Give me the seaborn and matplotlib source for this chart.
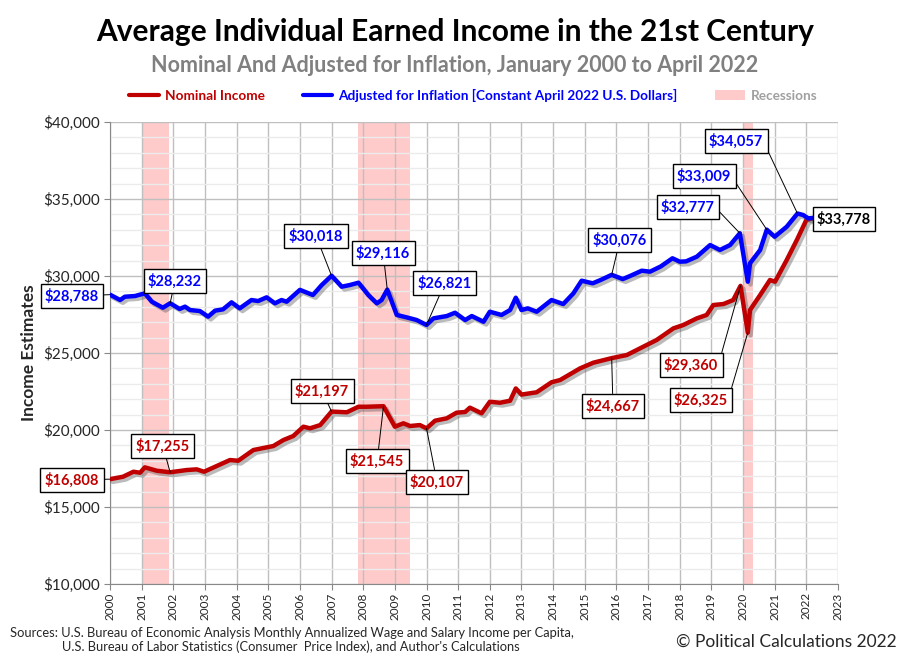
import matplotlib
matplotlib.use("Agg")
import matplotlib.pyplot as plt
import matplotlib.patheffects as pe
from matplotlib.lines import Line2D
from matplotlib.patches import Patch
from matplotlib.ticker import FuncFormatter, MultipleLocator
import seaborn as sns
import pandas as pd

# adjusted for inflation (constant April 2022 dollars)
adj_dates = [2000.0, 2000.32, 2000.47, 2000.79, 2001.1, 2001.32, 2001.67, 2001.9, 2002.2, 2002.37,
             2002.53, 2002.84, 2003.1, 2003.32, 2003.57, 2003.84, 2004.1, 2004.47, 2004.68, 2004.95,
             2005.21, 2005.42, 2005.58, 2006.0, 2006.41, 2006.69, 2007.0, 2007.32, 2007.58, 2007.85,
             2008.16, 2008.43, 2008.58, 2008.76, 2009.06, 2009.37, 2009.69, 2010.0, 2010.22, 2010.64,
             2010.9, 2011.22, 2011.43, 2011.8, 2012.0, 2012.37, 2012.64, 2012.82, 2013.0, 2013.2,
             2013.48, 2013.95, 2014.32, 2014.64, 2014.9, 2015.25, 2015.5, 2015.85, 2016.2, 2016.43,
             2016.8, 2017.06, 2017.4, 2017.77, 2018.0, 2018.2, 2018.54, 2018.96, 2019.27, 2019.59,
             2019.9, 2020.15, 2020.22, 2020.54, 2020.75, 2021.0, 2021.38, 2021.72, 2021.9, 2022.06,
             2022.25]
adj_values = [28788, 28440, 28655, 28700, 28875, 28330, 27940, 28232, 27860, 28010,
              27790, 27725, 27360, 27750, 27835, 28290, 27900, 28440, 28375, 28615,
              28225, 28440, 28330, 29100, 28765, 29415, 30018, 29305, 29415, 29565,
              28765, 28225, 28440, 29116, 27470, 27315, 27140, 26821, 27250, 27400,
              27615, 27140, 27400, 27030, 27680, 27470, 27790, 28590, 27790, 27900,
              27680, 28440, 28180, 28875, 29695, 29525, 29740, 30076, 29800, 30000,
              30345, 30280, 30620, 31150, 30930, 30950, 31255, 32010, 31690, 32010,
              32777, 29630, 30825, 31690, 33009, 32550, 33200, 34057, 33960, 33745,
              33778]

# nominal
nom_dates = [2000.0, 2000.41, 2000.74, 2000.95, 2001.1, 2001.48, 2001.9, 2002.42, 2002.74, 2002.97,
             2003.37, 2003.79, 2004.05, 2004.53, 2005.16, 2005.48, 2005.79, 2006.11, 2006.32, 2006.64,
             2007.0, 2007.48, 2007.85, 2008.11, 2008.64, 2009.0, 2009.27, 2009.48, 2009.79, 2010.0,
             2010.27, 2010.64, 2010.95, 2011.22, 2011.37, 2011.74, 2012.0, 2012.32, 2012.64, 2012.82,
             2013.0, 2013.48, 2013.95, 2014.22, 2014.85, 2015.27, 2015.85, 2016.33, 2016.85, 2017.27,
             2017.8, 2018.11, 2018.54, 2018.85, 2019.06, 2019.38, 2019.69, 2019.92, 2020.15, 2020.22,
             2020.54, 2020.85, 2021.01, 2021.38, 2021.7, 2022.0, 2022.25]
nom_values = [16808, 16965, 17290, 17225, 17575, 17355, 17255, 17400, 17445, 17290,
              17660, 18050, 18005, 18700, 18960, 19350, 19610, 20215, 20110, 20320,
              21197, 21150, 21510, 21510, 21545, 20215, 20435, 20260, 20320, 20107,
              20605, 20760, 21125, 21170, 21450, 21085, 21835, 21770, 21900, 22700,
              22300, 22450, 23100, 23245, 24000, 24370, 24667, 24870, 25410, 25845,
              26600, 26815, 27250, 27470, 28115, 28180, 28440, 29360, 26325, 27790,
              28765, 29740, 29630, 31040, 32340, 33640, 33778]

recession_start = [2001.05, 2007.82, 2020.04]
recession_end = [2001.86, 2009.48, 2020.3]

years = list(range(2000, 2024))

# labelled points: (index into series, label position, connector leaves box from right edge?)
adj_labels = [(0, (1998.8, 28700), False), (7, (2002.05, 29675), False),
              (26, (2006.51, 32600), False), (33, (2008.63, 31495), False),
              (37, (2010.58, 29545), False), (57, (2016.11, 32340), False),
              (70, (2018.26, 34480), True), (74, (2018.77, 36490), True),
              (77, (2019.78, 38765), True)]
nom_labels = [(0, (1998.8, 16750), False), (6, (2001.67, 18960), False),
              (20, (2006.7, 22530), False), (24, (2008.44, 17985), False),
              (29, (2010.33, 16620), False), (46, (2015.89, 21555), False),
              (57, (2018.36, 24220), True), (58, (2018.67, 21945), True)]

RED = "#C00000"
BLUE = "#0000FF"
PINK = "#ffcaca"

sns.set_style("white")
plt.rcParams["font.family"] = ["Lato", "DejaVu Sans"]

fig = plt.figure(figsize=(9.1, 6.61), dpi=100)
ax = fig.add_axes([110 / 910, 1 - 584 / 661, 728 / 910, 462 / 661])

for s, e in zip(recession_start, recession_end):
    ax.axvspan(s, e, color=PINK, lw=0, zorder=0)

adj = pd.DataFrame({"date": adj_dates, "value": adj_values})
nom = pd.DataFrame({"date": nom_dates, "value": nom_values})
shadow = [pe.SimpleLineShadow(offset=(2, -2), shadow_color="#555555", alpha=0.4), pe.Normal()]
sns.lineplot(data=nom, x="date", y="value", color=RED, linewidth=3.2, ax=ax, zorder=3)
ax.lines[-1].set_path_effects(shadow)
sns.lineplot(data=adj, x="date", y="value", color=BLUE, linewidth=3.2, ax=ax, zorder=3)
ax.lines[-1].set_path_effects(shadow)

ax.set_xlim(2000, 2023)
ax.set_ylim(10000, 40000)
ax.set_xticks(years)
ax.set_xticklabels([str(y) for y in years], rotation=90, fontsize=8.5)
ax.yaxis.set_major_locator(MultipleLocator(5000))
ax.yaxis.set_minor_locator(MultipleLocator(1000))
ax.yaxis.set_major_formatter(FuncFormatter(lambda v, p: f"${v:,.0f}"))
ax.tick_params(axis="y", labelsize=11, length=4, which="major", left=True, color="#888888")
ax.tick_params(axis="x", length=4, bottom=True, color="#888888", pad=2)
ax.set_axisbelow(True)
ax.grid(True, which="major", color="#bfbfbf", lw=1)
ax.grid(True, which="minor", axis="y", color="#ebebeb", lw=1)
for side in ["top", "right"]:
    ax.spines[side].set_visible(False)
for side in ["left", "bottom"]:
    ax.spines[side].set_color("#888888")
ax.set_xlabel("")
ax.set_ylabel("Income Estimates", fontsize=12.5, fontweight="bold", labelpad=4)

box = dict(boxstyle="square,pad=0.3", fc="white", ec="black", lw=1)


def label(dates, values, idx, pos, right, color):
    x, y = dates[idx], values[idx]
    arrow = dict(arrowstyle="-", color="black", lw=0.7, shrinkA=0, shrinkB=0)
    if right:
        arrow["relpos"] = (1.0, 0.5)
    ax.annotate(f"${y:,}", xy=(x, y), xytext=pos, ha="center", va="center",
                fontsize=10.5, fontweight="bold", color=color, bbox=box,
                annotation_clip=False, zorder=5, arrowprops=arrow)


for idx, pos, right in adj_labels:
    label(adj_dates, adj_values, idx, pos, right, BLUE)
for idx, pos, right in nom_labels:
    label(nom_dates, nom_values, idx, pos, right, RED)
ax.annotate(f"${adj_values[-1]:,}", xy=(adj_dates[-1], adj_values[-1]), xytext=(2023.19, 33700),
            ha="center", va="center", fontsize=10.5, fontweight="bold", color="black",
            bbox=box, annotation_clip=False, zorder=5,
            arrowprops=dict(arrowstyle="-", color="black", lw=0.7, shrinkA=0, shrinkB=0))

fig.text(0.5, 1 - 32 / 661, "Average Individual Earned Income in the 21st Century",
         ha="center", va="center", fontsize=21.5, fontweight="bold", color="black")
fig.text(0.5, 1 - 65 / 661, "Nominal And Adjusted for Inflation, January 2000 to April 2022",
         ha="center", va="center", fontsize=15.5, fontweight="bold", color="#808080")

handles = [Line2D([], [], color=RED, lw=3), Line2D([], [], color=BLUE, lw=3),
           Patch(facecolor=PINK, edgecolor="none")]
leg = fig.legend(handles, ["Nominal Income", "Adjusted for Inflation [Constant April 2022 U.S. Dollars]",
                           "Recessions"],
                 loc="center", bbox_to_anchor=(0.52, 1 - 95 / 661), ncol=3, frameon=False,
                 prop={"weight": "bold", "size": 9.8}, handlelength=2.2, columnspacing=2.8,
                 handletextpad=0.4)
for t, c in zip(leg.get_texts(), [RED, BLUE, "#a0a0a0"]):
    t.set_color(c)

fig.text(10 / 910, 1 - 633 / 661,
         "Sources: U.S. Bureau of Economic Analysis Monthly Annualized Wage and Salary Income per Capita,",
         fontsize=9.3, va="center")
fig.text(62 / 910, 1 - 647 / 661,
         "U.S. Bureau of Labor Statistics (Consumer  Price Index), and Author's Calculations",
         fontsize=9.3, va="center")
fig.text(897 / 910, 1 - 642 / 661, "\u00a9 Political Calculations 2022", ha="right", va="center",
         fontsize=12.5)

fig.savefig("out.png", dpi=100)
